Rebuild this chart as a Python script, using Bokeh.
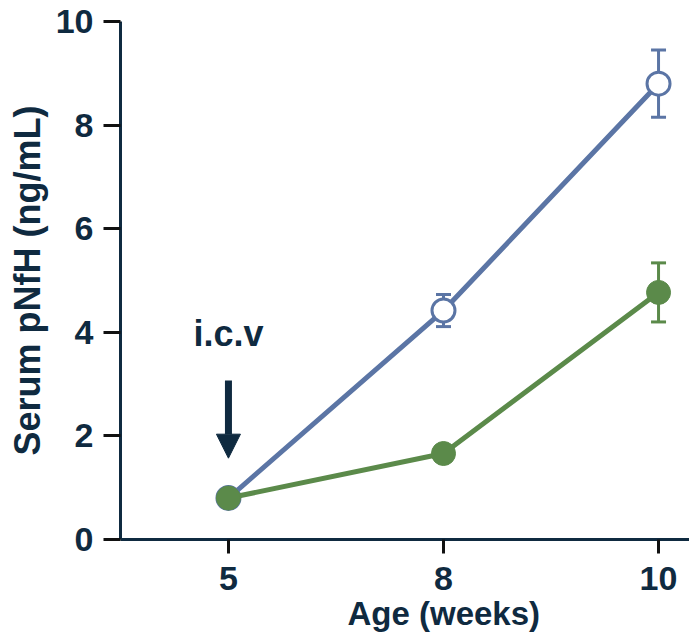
from bokeh.plotting import figure
from bokeh.models import (Range1d, FixedTicker, Whisker, ColumnDataSource,
                          Arrow, NormalHead, TeeHead, Label, Title)
from bokeh.embed import file_html
from bokeh.resources import INLINE

# Serum pNfH over age, two groups (mean ± SEM)
ages = [5, 8, 10]
blue_mean = [0.80, 4.42, 8.80]
blue_sem = [0.0, 0.31, 0.65]
green_mean = [0.80, 1.66, 4.77]
green_sem = [0.0, 0.0, 0.57]
y_ticks = [0, 2, 4, 6, 8, 10]

# injection marker
icv_label = "i.c.v"
icv_age = 5
arrow_top = 3.07
arrow_tip = 1.57

BLUE = "#5b75a5"
GREEN = "#5b8a4a"
INK = "#0f2a40"
FONT = "Liberation Sans"

pos = list(range(len(ages)))  # equally spaced age categories

p = figure(width=689, height=637, output_backend="svg", toolbar_location=None,
           x_range=Range1d(-0.502, 2.144), y_range=Range1d(0, 10),
           min_border_left=120, min_border_right=0, min_border_top=21,
           min_border_bottom=98)
p.outline_line_color = None
p.grid.visible = False
p.background_fill_color = "white"
p.border_fill_color = "white"


def style_axis(ax, tick_out):
    ax.axis_line_color = INK
    ax.axis_line_width = 3
    ax.major_tick_line_color = "#111111"
    ax.major_tick_line_width = 3
    ax.major_tick_out = tick_out
    ax.major_tick_in = 0
    ax.minor_tick_line_color = None
    ax.major_label_text_font = FONT
    ax.major_label_text_font_style = "bold"
    ax.major_label_text_font_size = "34px"
    ax.major_label_text_color = INK
    ax.axis_label_text_font = FONT
    ax.axis_label_text_font_style = "bold"
    ax.axis_label_text_color = INK


style_axis(p.xaxis[0], 14)
style_axis(p.yaxis[0], 17)

p.xaxis.ticker = FixedTicker(ticks=pos)
p.xaxis.major_label_overrides = {i: str(a) for i, a in zip(pos, ages)}
p.xaxis.major_label_standoff = 13

p.yaxis.ticker = FixedTicker(ticks=y_ticks)
p.yaxis.major_label_standoff = 10
p.yaxis.axis_label = "Serum pNfH (ng/mL)"
p.yaxis.axis_label_text_font_size = "36px"
p.yaxis.axis_label_standoff = 5


def add_whiskers(mean, sem, color):
    idx = [i for i, s in enumerate(sem) if s > 0]
    src = ColumnDataSource(dict(
        x=[pos[i] for i in idx],
        lo=[mean[i] - sem[i] for i in idx],
        hi=[mean[i] + sem[i] for i in idx]))
    w = Whisker(source=src, base="x", lower="lo", upper="hi",
                line_color=color, line_width=3,
                lower_head=TeeHead(size=15, line_color=color, line_width=3),
                upper_head=TeeHead(size=15, line_color=color, line_width=3))
    p.add_layout(w)


add_whiskers(blue_mean, blue_sem, BLUE)
add_whiskers(green_mean, green_sem, GREEN)

# blue series: open circles
p.line(pos, blue_mean, line_color=BLUE, line_width=5)
p.scatter(pos, blue_mean, size=23, marker="circle", fill_color="white",
          line_color=BLUE, line_width=3)

# green series: filled circles
p.line(pos, green_mean, line_color=GREEN, line_width=5)
p.scatter(pos, green_mean, size=24, marker="circle", fill_color=GREEN,
          line_color=GREEN, line_width=1)

# injection arrow and its label
ax_i = pos[ages.index(icv_age)]
p.add_layout(Arrow(x_start=ax_i, y_start=arrow_top, x_end=ax_i, y_end=arrow_tip,
                   line_color=INK, line_width=7,
                   end=NormalHead(size=24, fill_color=INK, line_color=INK,
                                  line_width=1)))
p.add_layout(Label(x=ax_i, y=3.97, text=icv_label, text_align="center",
                   text_baseline="alphabetic", text_font=FONT,
                   text_font_style="bold", text_font_size="36px",
                   text_color=INK))

# x-axis title, centred under the middle age
p.add_layout(Title(text="Age (weeks)", align="left", offset=227,
                   text_font=FONT, text_font_style="bold",
                   text_font_size="33px", text_color=INK, standoff=0),
             "below")

open("out.html", "w").write(file_html(p, INLINE))
